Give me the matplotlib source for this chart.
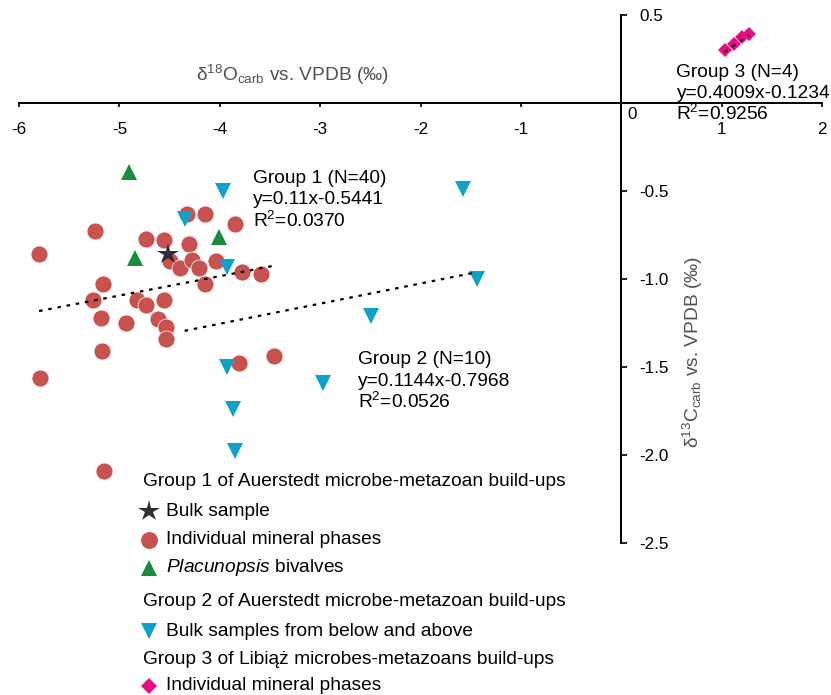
# Stable isotope cross-plot (d18O vs d13C) for the Auerstedt and Libiaz build-ups.
# Axes cross at the origin, each group gets its own linear trend line.

import numpy as np
import matplotlib.pyplot as plt

plt.rcParams['font.family'] = ['Liberation Sans', 'DejaVu Sans']
plt.rcParams['mathtext.fontset'] = 'custom'
plt.rcParams['mathtext.rm'] = 'Liberation Sans'
plt.rcParams['mathtext.it'] = 'Liberation Sans:italic'
plt.rcParams['axes.unicode_minus'] = False

# Group 1 (Auerstedt) - individual mineral phases
g1_mineral_o = [-5.80, -5.24, -5.79, -5.17, -5.16, -5.26, -5.18, -4.93, -4.82, -4.73,
                -4.56, -4.62, -4.54, -4.54, -4.73, -4.56, -4.33, -4.15, -3.85, -4.31,
                -4.50, -4.40, -4.28, -4.21, -4.15, -4.04, -3.78, -3.59, -3.81, -3.46,
                -5.15]
g1_mineral_c = [-0.86, -0.73, -1.56, -1.41, -1.03, -1.12, -1.22, -1.25, -1.12, -1.15,
                -1.12, -1.23, -1.27, -1.34, -0.77, -0.78, -0.63, -0.63, -0.69, -0.80,
                -0.90, -0.94, -0.89, -0.94, -1.03, -0.90, -0.96, -0.97, -1.48, -1.44,
                -2.09]
# Group 1 - bulk sample
g1_bulk_o = [-4.52]
g1_bulk_c = [-0.86]
# Group 1 - Placunopsis bivalves
g1_bivalve_o = [-4.90, -4.84, -4.01]
g1_bivalve_c = [-0.39, -0.88, -0.76]

# Group 2 (Auerstedt) - bulk samples from below and above
g2_bulk_o = [-3.97, -4.35, -3.93, -3.93, -1.58, -1.44, -2.49, -2.97, -3.87, -3.85]
g2_bulk_c = [-0.50, -0.66, -0.93, -1.50, -0.49, -1.00, -1.21, -1.59, -1.74, -1.98]

# Group 3 (Libiaz) - individual mineral phases
g3_mineral_o = [1.03, 1.12, 1.20, 1.27]
g3_mineral_c = [0.30, 0.335, 0.373, 0.392]

# Linear fits: slope, intercept, R^2
g1_fit = (0.11, -0.5441, '0.0370')
g2_fit = (0.1144, -0.7968, '0.0526')
g3_fit = (0.4009, -0.1234, '0.9256')

RED = '#C85250'
GREEN = '#178C3C'
BLUE = '#0EA2C8'
PINK = '#EA0C82'
DARK = '#2B2F33'
LABEL_GREY = '#505050'
FS = 13.8


def trend_line(ax, xs, fit):
    slope, icpt, _ = fit
    x = np.array([min(xs), max(xs)])
    ax.plot(x, slope * x + icpt, color='black', lw=1.6,
            linestyle=(0, (1.6, 2.6)), zorder=5)


def fit_text(ax, x, y, title, fit):
    slope, icpt, r2 = fit
    sign = '-' if icpt < 0 else '+'
    lines = [title, f'y={slope:g}x{sign}{abs(icpt):.4f}', f'R$^2$={r2}']
    for i, line in enumerate(lines):
        ax.text(x, y - i * 0.12, line, fontsize=FS, ha='left', va='center', zorder=6)


def px(x, y):
    # pixel position (from top left) -> figure fraction
    return x / 831, 1 - y / 695


def legend_block(fig):
    headers = [(482, 'Group 1 of Auerstedt microbe-metazoan build-ups'),
               (602, 'Group 2 of Auerstedt microbe-metazoan build-ups'),
               (659, 'Group 3 of Libiąż microbes-metazoans build-ups')]
    for y, txt in headers:
        fig.text(*px(143, y), txt, fontsize=FS, va='center', ha='left')

    entries = [(511, '*', DARK, 16, 'Bulk sample'),
               (540, 'o', RED, 12.2, 'Individual mineral phases'),
               (568, '^', GREEN, 11.5, r'$\mathit{Placunopsis}$ bivalves'),
               (631, 'v', BLUE, 11.5, 'Bulk samples from below and above'),
               (686, 'D', PINK, 8.2, 'Individual mineral phases')]
    for y, m, c, ms, txt in entries:
        fx, fy = px(149, y)
        fig.add_artist(plt.Line2D([fx], [fy], marker=m, color=c, markersize=ms,
                                  linestyle='none', markeredgewidth=0,
                                  transform=fig.transFigure))
        fig.text(*px(166, y), txt, fontsize=FS, va='center', ha='left')


fig = plt.figure(figsize=(8.31, 6.95), dpi=100)
ax = fig.add_axes([19 / 831, 1 - 543 / 695, 803 / 831, 528 / 695])
ax.set_xlim(-6, 2)
ax.set_ylim(-2.5, 0.5)

# spines through the origin, y labels on the right side of the vertical axis
ax.spines['bottom'].set_position(('data', 0))
ax.spines['right'].set_position(('data', 0))
ax.spines['top'].set_visible(False)
ax.spines['left'].set_visible(False)
for s in ('bottom', 'right'):
    ax.spines[s].set_linewidth(1.4)
ax.yaxis.tick_right()
ax.set_xticks(np.arange(-6, 3, 1))
ax.set_xticklabels(['-6', '-5', '-4', '-3', '-2', '-1', '', '1', '2'])
ax.set_yticks(np.arange(-2.5, 0.75, 0.5))
ax.set_yticklabels(['-2.5', '-2.0', '-1.5', '-1.0', '-0.5', '', '0.5'])
ax.tick_params(axis='x', direction='out', length=3, width=1.2, pad=11, labelsize=12.3)
ax.tick_params(axis='y', direction='out', length=4, width=1.2, pad=9, labelsize=12.3)
ax.text(0.06, -0.068, '0', fontsize=12.3, ha='left', va='center')

# data points
ax.plot(g1_mineral_o, g1_mineral_c, 'o', color=RED, ms=12.2, mec='white', mew=0.5, zorder=3)
ax.plot(g1_bivalve_o, g1_bivalve_c, '^', color=GREEN, ms=11.5, mew=0, zorder=3)
ax.plot(g1_bulk_o, g1_bulk_c, '*', color=DARK, ms=16, mew=0, zorder=4)
ax.plot(g2_bulk_o, g2_bulk_c, 'v', color=BLUE, ms=11.5, mew=0, zorder=3)
ax.plot(g3_mineral_o, g3_mineral_c, 'D', color=PINK, ms=7, mew=0, zorder=3)

# trend lines
g1_all_o = g1_mineral_o + g1_bulk_o + g1_bivalve_o
trend_line(ax, g1_all_o, g1_fit)
trend_line(ax, g2_bulk_o, g2_fit)
trend_line(ax, g3_mineral_o, g3_fit)

n1 = len(g1_mineral_o) + len(g1_bulk_o) + len(g1_bivalve_o)
fit_text(ax, -3.67, -0.43, f'Group 1 (N={max(n1, 40)})', g1_fit)
fit_text(ax, -2.62, -1.46, f'Group 2 (N={len(g2_bulk_o)})', g2_fit)
fit_text(ax, 0.55, 0.176, f'Group 3 (N={len(g3_mineral_o)})', g3_fit)

# axis titles
fig.text(*px(293, 75), r'$\mathregular{δ^{18}O_{carb}}$ vs. VPDB (‰)', fontsize=FS,
         color=LABEL_GREY, ha='center', va='center')
fig.text(*px(693, 352), r'$\mathregular{δ^{13}C_{carb}}$ vs. VPDB (‰)', fontsize=FS,
         color=LABEL_GREY, ha='center', va='center', rotation=90)

legend_block(fig)

fig.savefig('out.png', dpi=100)
